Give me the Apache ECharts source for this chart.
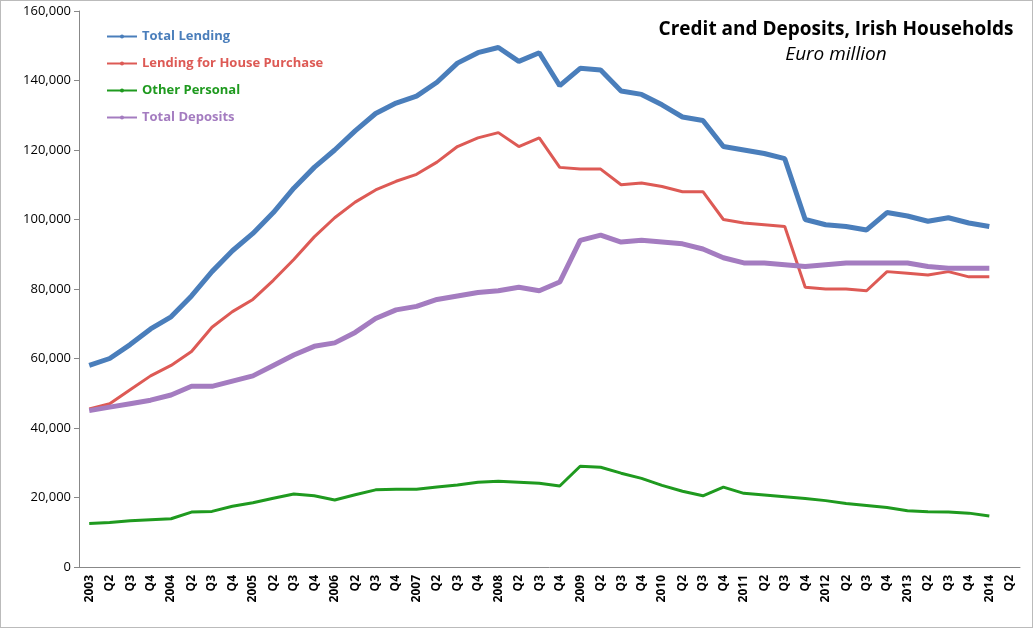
<!DOCTYPE html>
<html><head><meta charset="utf-8">
<script src="https://cdn.jsdelivr.net/npm/echarts@6/dist/echarts.min.js"></script>
<style>html,body{margin:0;padding:0;background:#fff}#c{width:1031px;height:626px;border:1px solid #bbb}</style>
</head><body><div id="c"></div>
<script>
const categories = [];
for (let y = 2003; y <= 2014; y++) { categories.push(String(y), 'Q2', 'Q3', 'Q4'); }
categories.length = 46;
const totalLending = [58000,60000,64000,68500,72000,78000,85000,91000,96000,102000,109000,115000,120000,125500,130500,133500,135500,139500,145000,148000,149500,145500,148000,138500,143500,143000,137000,136000,133000,129500,128500,121000,120000,119000,117500,100000,98500,98000,97000,102000,101000,99500,100500,99000,98000];
const housePurchase = [45500,47000,51000,55000,58000,62000,69000,73500,77000,82500,88500,95000,100500,105000,108500,111000,113000,116500,121000,123500,125000,121000,123500,115000,114500,114500,110000,110500,109500,108000,108000,100000,99000,98500,98000,80500,80000,80000,79500,85000,84500,84000,85000,83500,83500];
const otherPersonal = [12500,12800,13300,13600,13900,15800,16000,17500,18500,19800,21000,20500,19300,20800,22200,22400,22400,23000,23600,24400,24700,24400,24100,23300,29000,28700,27000,25500,23500,21800,20500,23000,21200,20700,20200,19700,19100,18300,17700,17100,16200,15900,15800,15500,14700];
const totalDeposits = [45000,46000,47000,48000,49500,52000,52000,53500,55000,58000,61000,63500,64500,67500,71500,74000,75000,77000,78000,79000,79500,80500,79500,82000,94000,95500,93500,94000,93500,93000,91500,89000,87500,87500,87000,86500,87000,87500,87500,87500,87500,86500,86000,86000,86000];

const colors = ['#4a7ebb','#dd5a55','#1f9a1f','#a47cc0'];
const ch = echarts.init(document.getElementById('c'));
function s(name, data, w, i){return {name, type:'line', data, symbol:'none', lineStyle:{width:w,color:colors[i]}, itemStyle:{color:colors[i]}};}
ch.setOption({
  animation:false,
  textStyle:{fontFamily:'Open Sans, sans-serif'},
  title:{text:'Credit and Deposits, Irish Households', subtext:'Euro million', right:16, top:14, itemGap:6,
    textStyle:{fontSize:19,fontWeight:'bold',color:'#000'},
    subtextStyle:{fontSize:19,fontStyle:'italic',color:'#000'}, textAlign:'center', left:830},
  legend:{orient:'vertical', left:100, top:24, itemGap:14, itemWidth:30, itemHeight:5,
    data:[{name:'Total Lending',textStyle:{color:colors[0]}},{name:'Lending for House Purchase',textStyle:{color:colors[1]}},{name:'Other Personal',textStyle:{color:colors[2]}},{name:'Total Deposits',textStyle:{color:colors[3]}}],
    textStyle:{fontSize:13,fontWeight:'bold'}},
  grid:{left:78, right:12, top:10, bottom:60, containLabel:false},
  xAxis:{type:'category', data:categories, boundaryGap:true,
    axisLine:{lineStyle:{color:'#888'}}, axisTick:{interval:0,length:5,lineStyle:{color:'#888'}},
    axisLabel:{interval:0, rotate:90, fontSize:12, fontWeight:'bold', color:'#000', margin:8}},
  yAxis:{type:'value', min:0, max:160000, interval:20000, splitLine:{show:false},
    axisLine:{show:true,lineStyle:{color:'#888'}}, axisTick:{show:true,lineStyle:{color:'#888'}},
    axisLabel:{fontSize:13, color:'#000', formatter:v=>v.toLocaleString('en-US')}},
  series:[s('Total Lending',totalLending,5,0), s('Lending for House Purchase',housePurchase,3,1), s('Other Personal',otherPersonal,3,2), s('Total Deposits',totalDeposits,5,3)]
});
</script></body></html>
